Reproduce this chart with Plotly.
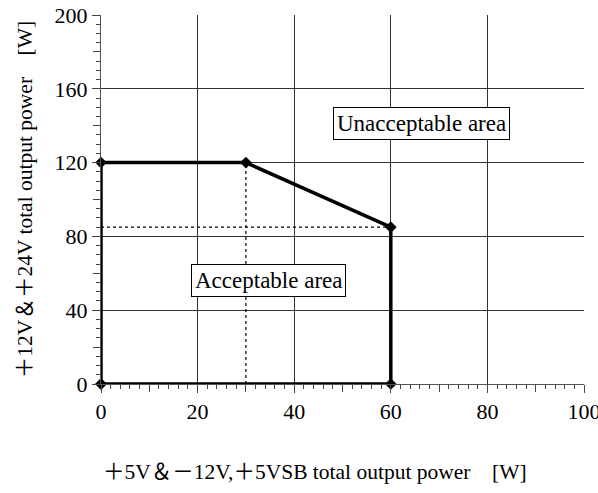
import plotly.graph_objects as go

# Boundary of the acceptable operating area
boundary_x = [0, 0, 30, 60, 60, 0]
boundary_y = [0, 120, 120, 85, 0, 0]

# Guide (dotted) lines
guide_v_x = [30, 30]
guide_v_y = [0, 120]
guide_h_x = [0, 60]
guide_h_y = [85, 85]

# Labels
label_texts = ["Unacceptable area", "Acceptable area"]
label_x = [66.3, 34.6]
label_y = [141, 56]

x_title = "＋5V＆－12V,＋5VSB total output power　[W]"
y_title = "＋12V＆＋24V total output power　[W]"

FONT = "Liberation Serif, Noto Sans CJK JP, serif"

fig = go.Figure()

fig.add_trace(go.Scatter(x=guide_v_x, y=guide_v_y, mode="lines",
                         line=dict(color="black", width=1.2, dash="dot"),
                         showlegend=False, hoverinfo="skip"))
fig.add_trace(go.Scatter(x=guide_h_x, y=guide_h_y, mode="lines",
                         line=dict(color="black", width=1.2, dash="dot"),
                         showlegend=False, hoverinfo="skip"))
fig.add_trace(go.Scatter(x=boundary_x, y=boundary_y, mode="lines+markers",
                         line=dict(color="black", width=3.5),
                         marker=dict(symbol="diamond", size=9, color="black"),
                         showlegend=False, cliponaxis=False))

for t, x, y in zip(label_texts, label_x, label_y):
    fig.add_annotation(x=x, y=y, text=t, showarrow=False,
                       font=dict(family=FONT, size=23, color="black"),
                       bgcolor="white", bordercolor="black", borderwidth=1,
                       borderpad=3)

# x-axis title (placed slightly left of the plot centre, as in the original)
fig.add_annotation(xref="paper", yref="paper", x=0.443, y=-0.238,
                   xanchor="center", yanchor="middle", showarrow=False,
                   text=x_title, font=dict(family=FONT, size=21.5, color="black"))

fig.update_layout(
    width=598, height=493,
    margin=dict(l=101, r=14, t=15, b=109),
    paper_bgcolor="white", plot_bgcolor="white",
    font=dict(family=FONT, size=20, color="black"),
    xaxis=dict(range=[0, 100], dtick=20, showgrid=True, gridcolor="#333333",
               gridwidth=1, zeroline=False, showline=True, linecolor="#555555",
               ticks="outside", ticklen=8, tickcolor="#444444",
               minor=dict(dtick=2, ticklen=4, tickcolor="#444444", showgrid=False),
               tickfont=dict(size=22), automargin=False,
               ticklabeloverflow="allow"),
    yaxis=dict(range=[0, 200], dtick=40, showgrid=True, gridcolor="#333333",
               gridwidth=1, zeroline=False, showline=True, linecolor="#555555",
               ticks="outside", ticklen=8, tickcolor="#444444",
               minor=dict(dtick=5, ticklen=4, tickcolor="#444444", showgrid=False),
               title=dict(text=y_title, font=dict(size=21.5), standoff=16),
               tickfont=dict(size=22), automargin=False,
               ticklabeloverflow="allow"),
    xaxis2=dict(overlaying="x", matches="x", side="bottom", range=[0, 100],
                tickvals=[10, 30, 50, 70, 90], ticks="outside", ticklen=7,
                tickcolor="#444444", showticklabels=False, showgrid=False,
                showline=False, zeroline=False, anchor="y", automargin=False),
    yaxis2=dict(overlaying="y", matches="y", side="left", range=[0, 200],
                tickvals=[20, 60, 100, 140, 180], ticks="outside", ticklen=7,
                tickcolor="#444444", showticklabels=False, showgrid=False,
                showline=False, zeroline=False, anchor="x", automargin=False),
)

# invisible trace so overlay axes are drawn
fig.add_trace(go.Scatter(x=[None], y=[None], xaxis="x2", yaxis="y2",
                         showlegend=False, hoverinfo="skip"))

fig.write_html("out.html", config={"displayModeBar": False},
               post_script="document.body.style.margin='0px';")
